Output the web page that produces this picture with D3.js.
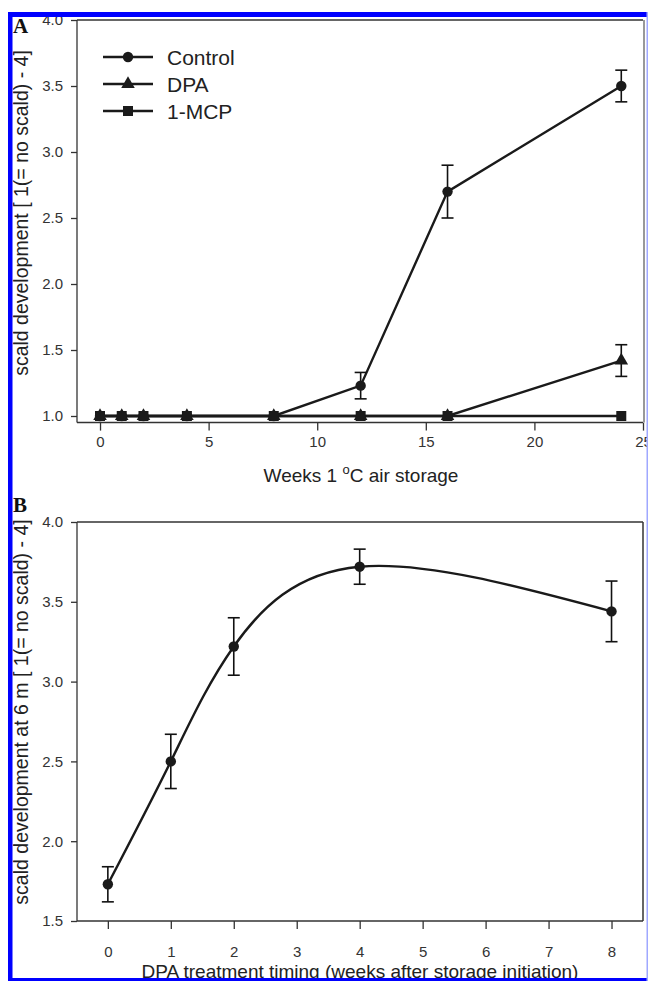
<!DOCTYPE html>
<html><head><meta charset="utf-8">
<script src="https://cdn.jsdelivr.net/npm/d3@7"></script>
<style>body{margin:0;background:#fff} svg{display:block}</style>
</head><body><svg id="c" width="648" height="981"></svg>
<script>
const weeksA = [0,1,2,4,8,12,16,24];
const controlA = [1,1,1,1,1,1.23,2.70,3.50];
const controlErrA = [0,0,0,0,0,0.10,0.20,0.12];
const dpaA = [1,1,1,1,1,1,1,1.42];
const dpaErrA = [0,0,0,0,0,0,0,0.12];
const mcpA = [1,1,1,1,1,1,1,1];
const seriesNamesA = ["Control","DPA","1-MCP"];
const xTicksA = [0,5,10,15,20,25];
const yTicksA = [1.0,1.5,2.0,2.5,3.0,3.5,4.0];
const timingB = [0,1,2,4,8];
const scaldB = [1.73,2.50,3.22,3.72,3.44];
const scaldErrB = [0.11,0.17,0.18,0.11,0.19];
const xTicksB = [0,1,2,3,4,5,6,7,8];
const yTicksB = [1.5,2.0,2.5,3.0,3.5,4.0];

const svg = d3.select("#c");
const FONT = "'Liberation Sans', Arial, sans-serif";
const fmt = d3.format(".1f");

function styleAxis(g){
  g.select(".domain").remove();
  g.selectAll(".tick line").attr("stroke","#333").attr("stroke-width",1.3);
  g.selectAll(".tick text").attr("fill","#333").style("font-family",FONT).style("font-size","15px");
}
function errBars(g, xs, ys, es, x, y){
  xs.forEach((xv,i)=>{
    if(!es[i]) return;
    const cx = x(xv), t = y(ys[i]+es[i]), b = y(ys[i]-es[i]);
    g.append("line").attr("x1",cx).attr("x2",cx).attr("y1",t).attr("y2",b).attr("stroke","#111").attr("stroke-width",1.6);
    [t,b].forEach(v=>g.append("line").attr("x1",cx-6).attr("x2",cx+6).attr("y1",v).attr("y2",v).attr("stroke","#111").attr("stroke-width",1.6));
  });
}

// ---------- Panel A ----------
const xA = d3.scaleLinear().domain([-1.06,25]).range([77,643]);
const yA = d3.scaleLinear().domain([0.95,4.0]).range([422.6,20]);
const gA = svg.append("g");
gA.append("g").attr("transform","translate(77,0)")
  .call(d3.axisLeft(yA).tickValues(yTicksA).tickFormat(fmt).tickSize(6).tickPadding(8)).call(styleAxis);
gA.append("g").attr("transform","translate(0,422.6)")
  .call(d3.axisBottom(xA).tickValues(xTicksA).tickFormat(d3.format("d")).tickSize(8).tickPadding(6)).call(styleAxis);

const lineA = d3.line().x(d=>xA(d[0])).y(d=>yA(d[1]));
const sym = {
  circle: d3.symbol().type(d3.symbolCircle).size(85),
  triangle: d3.symbol().type(d3.symbolTriangle).size(80),
  square: d3.symbol().type(d3.symbolSquare).size(100)
};
const seriesA = [
  {vals:mcpA, err:null, s:"square"},
  {vals:dpaA, err:dpaErrA, s:"triangle"},
  {vals:controlA, err:controlErrA, s:"circle"}
];
seriesA.forEach(sr=>{
  gA.append("path").datum(weeksA.map((w,i)=>[w,sr.vals[i]])).attr("d",lineA)
    .attr("fill","none").attr("stroke", "#1a1a1a").attr("stroke-width",2.4);
});
seriesA.forEach(sr=>{
  if(sr.err) errBars(gA, weeksA, sr.vals, sr.err, xA, yA);
  weeksA.forEach((w,i)=>{
    gA.append("path").attr("d",sym[sr.s]()).attr("transform",`translate(${xA(w)},${yA(sr.vals[i])})`).attr("fill","#1a1a1a");
  });
});
// frame A
gA.append("line").attr("x1",77).attr("x2",643).attr("y1",20).attr("y2",20).attr("stroke","#333").attr("stroke-width",1.5);
gA.append("line").attr("x1",77).attr("x2",77).attr("y1",20).attr("y2",422.6).attr("stroke","#333").attr("stroke-width",1.3);
gA.append("line").attr("x1",77).attr("x2",643).attr("y1",422.6).attr("y2",422.6).attr("stroke","#333").attr("stroke-width",1.5);
gA.append("line").attr("x1",644).attr("x2",644).attr("y1",20).attr("y2",422.6).attr("stroke","#999").attr("stroke-width",2);

// legend
const legY = [57,84,111];
const legSym = ["circle","triangle","square"];
seriesNamesA.forEach((n,i)=>{
  const lg = gA.append("g").attr("transform",`translate(0,${legY[i]})`);
  lg.append("line").attr("x1",103).attr("x2",153).attr("stroke","#1a1a1a").attr("stroke-width",2.4);
  lg.append("path").attr("d",sym[legSym[i]]()).attr("transform","translate(128,0)").attr("fill","#1a1a1a");
  lg.append("text").attr("x",167).attr("y",7.5).text(n).style("font-family",FONT).style("font-size","21px").attr("fill","#222");
});

// axis titles A
const tA = gA.append("text").attr("x",361).attr("y",482).attr("text-anchor","middle")
  .style("font-family",FONT).style("font-size","19px").attr("fill","#222");
tA.append("tspan").text("Weeks 1 ");
tA.append("tspan").text("o").attr("dy",-8).style("font-size","13px");
tA.append("tspan").text("C air storage").attr("dy",8);
gA.append("text").attr("transform","translate(28,213) rotate(-90)").attr("text-anchor","middle")
  .style("font-family",FONT).style("font-size","19.5px").attr("fill","#222")
  .text("scald development [ 1(= no scald) - 4]");

// ---------- Panel B ----------
const xB = d3.scaleLinear().domain([-0.49,8.5]).range([77,643]);
const yB = d3.scaleLinear().domain([1.5,4.0]).range([921,522]);
const gB = svg.append("g");
gB.append("g").attr("transform","translate(77,0)")
  .call(d3.axisLeft(yB).tickValues(yTicksB).tickFormat(fmt).tickSize(6).tickPadding(8)).call(styleAxis);
gB.append("g").attr("transform","translate(0,921)")
  .call(d3.axisBottom(xB).tickValues(xTicksB).tickFormat(d3.format("d")).tickSize(8).tickPadding(17)).call(styleAxis);
gB.append("path").datum(timingB.map((t,i)=>[t,scaldB[i]]))
  .attr("d", d3.line().x(d=>xB(d[0])).y(d=>yB(d[1])).curve(d3.curveNatural))
  .attr("fill","none").attr("stroke","#1a1a1a").attr("stroke-width",2.4);
errBars(gB, timingB, scaldB, scaldErrB, xB, yB);
timingB.forEach((t,i)=>{
  gB.append("path").attr("d",sym.circle()).attr("transform",`translate(${xB(t)},${yB(scaldB[i])})`).attr("fill","#1a1a1a");
});
gB.append("line").attr("x1",77).attr("x2",643).attr("y1",522).attr("y2",522).attr("stroke","#333").attr("stroke-width",1.5);
gB.append("line").attr("x1",77).attr("x2",77).attr("y1",522).attr("y2",921).attr("stroke","#333").attr("stroke-width",1.3);
gB.append("line").attr("x1",77).attr("x2",643).attr("y1",921).attr("y2",921).attr("stroke","#333").attr("stroke-width",1.5);
gB.append("line").attr("x1",643).attr("x2",643).attr("y1",522).attr("y2",921).attr("stroke","#333").attr("stroke-width",1.5);

gB.append("text").attr("x",360).attr("y",978).attr("text-anchor","middle")
  .style("font-family",FONT).style("font-size","19px").attr("fill","#222")
  .text("DPA treatment timing (weeks after storage initiation)");
gB.append("text").attr("transform","translate(28,712) rotate(-90)").attr("text-anchor","middle")
  .style("font-family",FONT).style("font-size","19.5px").attr("fill","#222")
  .text("scald development at 6 m [ 1(= no scald) - 4]");

// panel letters
svg.append("text").attr("x",13).attr("y",33).text("A")
  .style("font-family","'Liberation Serif', 'Times New Roman', serif").style("font-weight","bold").style("font-size","21px").attr("fill","#111");
svg.append("text").attr("x",13).attr("y",512).text("B")
  .style("font-family","'Liberation Serif', 'Times New Roman', serif").style("font-weight","bold").style("font-size","21px").attr("fill","#111");

// blue border
svg.append("rect").attr("x",8).attr("y",12).attr("width",4.5).attr("height",969).attr("fill","#0000ff");
svg.append("rect").attr("x",8).attr("y",12).attr("width",640).attr("height",5).attr("fill","#0000ff");
svg.append("rect").attr("x",8).attr("y",978).attr("width",640).attr("height",3).attr("fill","#0000ff");
svg.append("rect").attr("x",646.5).attr("y",12).attr("width",1.5).attr("height",969).attr("fill","#9fa8ff");
</script></body></html>
